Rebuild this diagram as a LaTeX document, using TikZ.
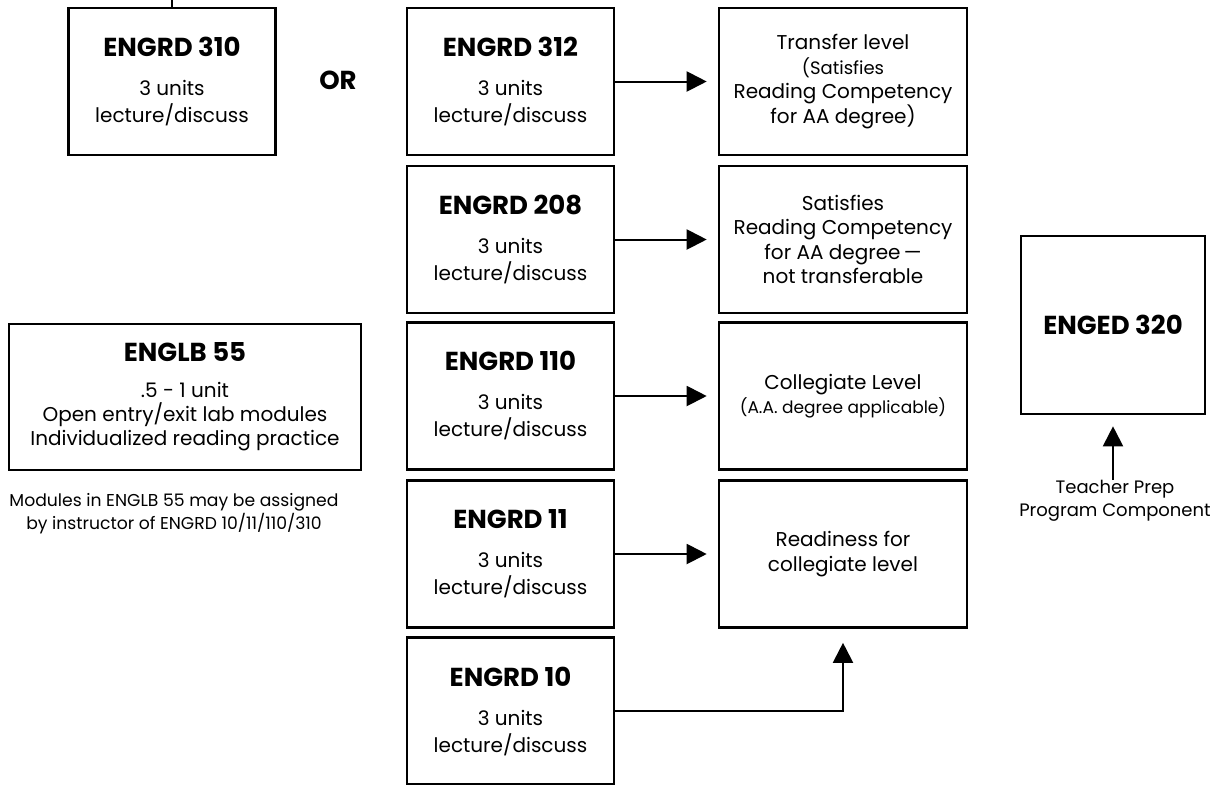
\documentclass[tikz,border=0pt]{standalone}
\usepackage{fontspec}
\setmainfont{Poppins}
\usepackage{tikz}
\usetikzlibrary{arrows.meta,positioning}
\newcommand\crs[1]{{\fontsize{13}{15}\selectfont\bfseries #1}}
\newcommand\smallish{\fontsize{8.5}{10}\selectfont}

\begin{document}
\begin{tikzpicture}[x=0.5pt,y=-0.5pt,>={Triangle[length=10pt,width=10pt]}]%
        \useasboundingbox (0,0) rectangle (1217,784);%%
        \begin{scope}[shape=rectangle,inner sep=0pt,minimum width=103.5pt,minimum height=73.5pt]
        \tikzstyle{every node}=[draw,line width=1.3pt,align=center,font=\fontsize{10}{13.5}\selectfont] %%
        \node (e310) at (172,81.5)  {\crs{ENGRD 310}\\[6pt]3 units\\lecture/discuss}; %%
        \node (e312) at (510.5,81.5)  {\crs{ENGRD 312}\\[6pt]3 units\\lecture/discuss}; %%
        \node (e208) at (510.5,239.5)  {\crs{ENGRD 208}\\[6pt]3 units\\lecture/discuss}; %%
        \node (e110) at (510.5,396)  {\crs{ENGRD 110}\\[6pt]3 units\\lecture/discuss}; %%
        \node (e11) at (510.5,554)  {\crs{ENGRD 11}\\[6pt]3 units\\lecture/discuss}; %%
        \node (e10) at (510.5,711)  {\crs{ENGRD 10}\\[6pt]3 units\\lecture/discuss}; %%
        \end{scope}%
        \begin{scope}[shape=rectangle,inner sep=0pt,minimum width=124pt,minimum height=73.5pt]
        \tikzstyle{every node}=[draw,line width=1.3pt,align=center,font=\fontsize{10}{12.3}\selectfont] %%
        \node (t312) at (843,81.5)  {Transfer level\\{\fontsize{9}{12.3}\selectfont(Satisfies}\\Reading Competency\\for AA degree)}; %%
        \node (s208) at (843,239.5)  {\fontsize{10}{14}\selectfont Satisfies\\Reading Competency\\for AA degree\,---\\not transferable}; %%
        \node (c110) at (843,396)  {\fontsize{10}{14}\selectfont Collegiate Level\\{\smallish(A.A. degree applicable)}}; %%
        \node (r11) at (843,554)  {\fontsize{10}{14.5}\selectfont Readiness for\\collegiate level}; %%
        \end{scope}
        \begin{scope}[shape=rectangle,inner sep=0pt,line width=1.3pt]
        \tikzstyle{every node}=[draw,align=center,font=\fontsize{10}{12}\selectfont] %%
        \node[minimum width=176pt,minimum height=73pt] (lb55) at (185,397)  {\crs{ENGLB 55}\\[6pt].5 - 1 unit\\Open entry/exit lab modules\\Individualized reading practice}; %%
        \node[minimum width=92pt,minimum height=89pt] (ed320) at (1113,325)  {\crs{ENGED 320}}; %%
        \end{scope}
        \node (or) at (338,80) {\crs{OR}}; %%
        \node[align=center,font=\fontsize{8.6}{9}\selectfont] (note) at (174,514) {Modules in ENGLB 55 may be assigned\\by instructor of ENGRD 10/11/110/310}; %%
        \node[align=center,font=\fontsize{9}{11.5}\selectfont,inner sep=0pt] (tp) at (1115,501) {Teacher Prep\\Program Component}; %%
        \coordinate (top) at (172,-2); %%
        \draw[line width=1.3pt] (e310.north) -- (top); %%
        \begin{scope}[line width=1pt,shorten >=5.5pt]
        \draw[->] (e312) -- (t312); %%
        \draw[->] (e208) -- (s208); %%
        \draw[->] (e110) -- (c110); %%
        \draw[->] (e11) -- (r11); %%
        \draw[->,shorten >=7pt] (e10.east) -| (r11.south); %%
        \draw[->] (ed320.south |- tp.north) -- (ed320.south); %%
        \end{scope}
\end{tikzpicture}
\end{document}
